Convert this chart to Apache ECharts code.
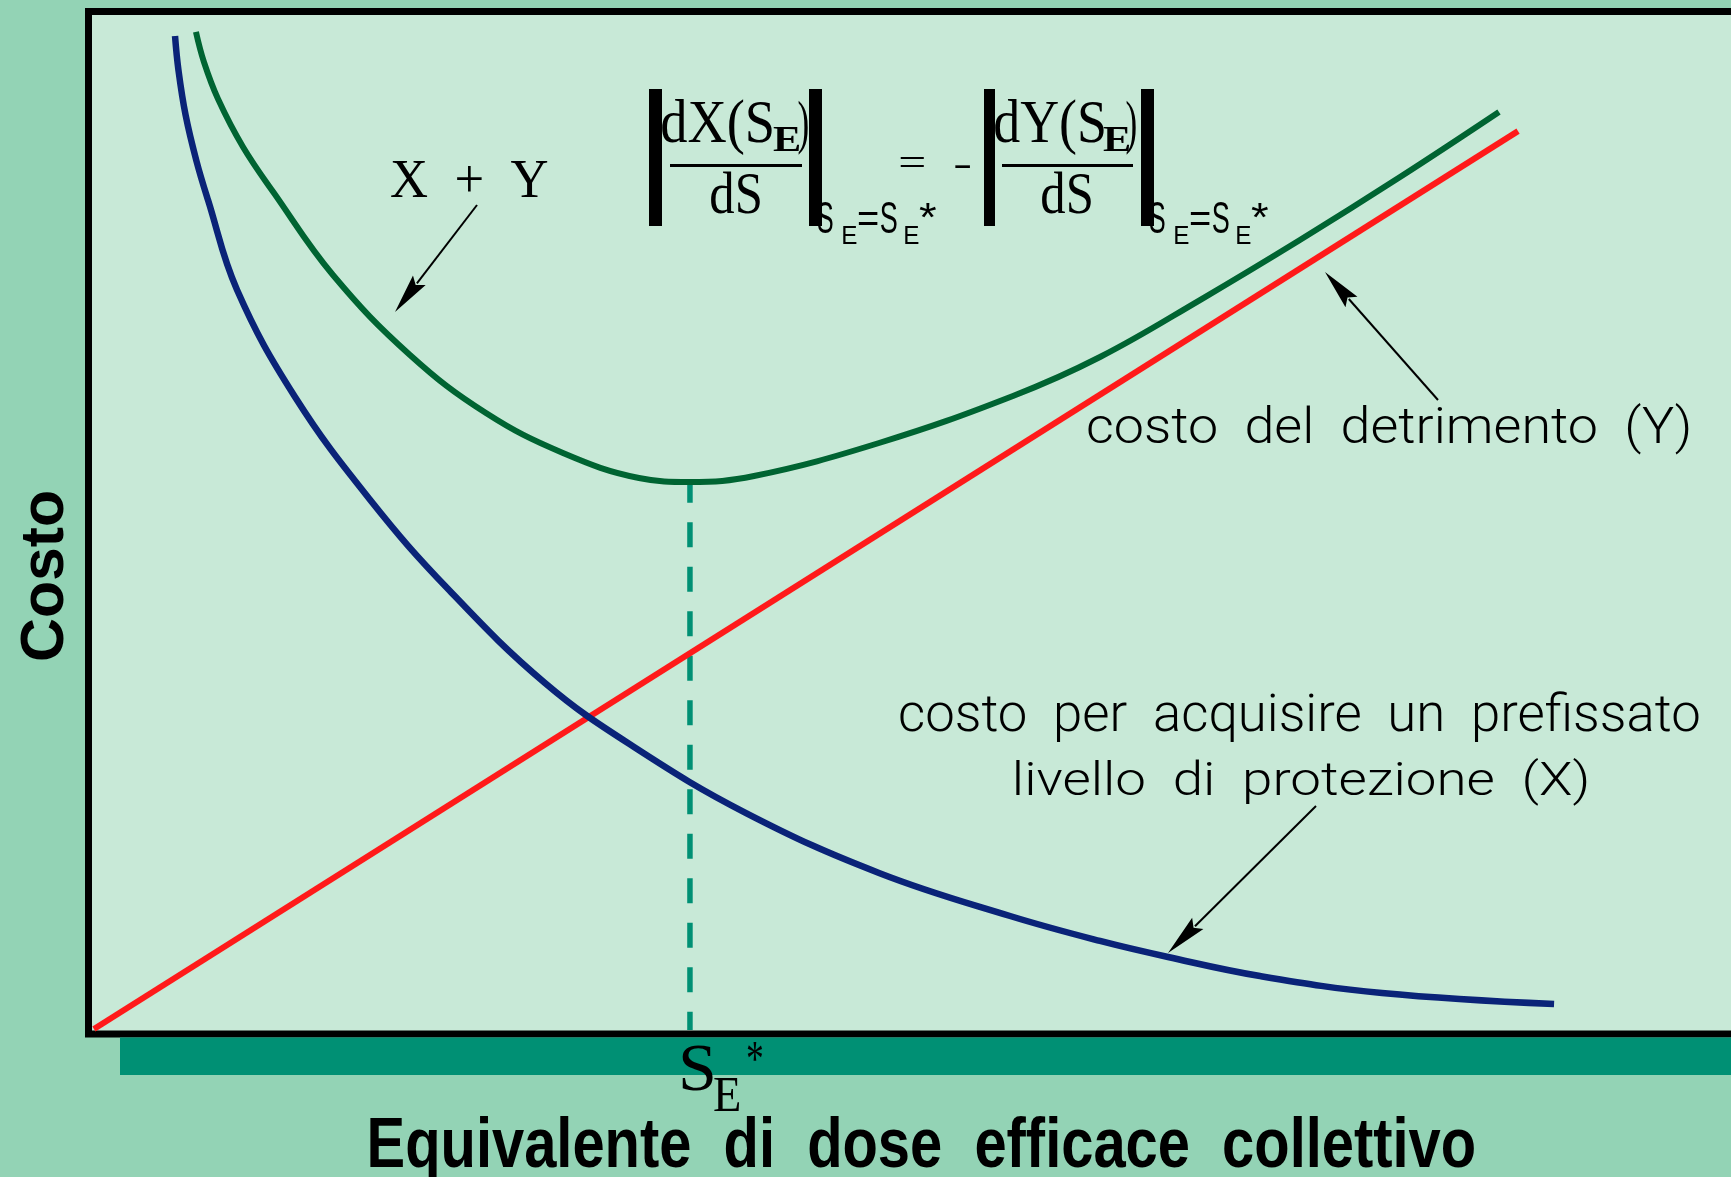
<!DOCTYPE html>
<html>
<head>
<meta charset="utf-8">
<script src="https://cdn.jsdelivr.net/npm/echarts@6/dist/echarts.min.js"></script>
<style>
html,body{margin:0;padding:0;background:#93d3b5;}
#chart{width:1731px;height:1177px;}
</style>
</head>
<body>
<div id="chart"></div>
<script>
// ---------------- DATA (arbitrary units 0..100) ----------------
// X : cost of achieving a given level of protection (blue)
const protS    = [5.09, 5.29, 5.71, 6.35, 7.03, 8.74, 12.15, 16.62, 21.15, 26.85, 32.09, 38.68, 46.50, 54.21, 59.50, 63.50, 68.91, 76.09, 86.21];
const protCost = [97.6, 94.28, 89.88, 85.38, 81.56, 72.76, 62.30, 52.13, 43.52, 34.33, 28.07, 21.61, 15.75, 11.54, 9.10, 7.53, 5.67, 4.01, 2.93];
// Y : cost of detriment (red, straight line)
const detrS    = [0.32, 84.09];
const detrCost = [0.49, 88.3];
// X + Y : total (green)
const totS     = [6.32, 6.79, 7.62, 9.09, 10.91, 14.38, 18.91, 23.38, 27.91, 32.38, 35.38, 39.15, 46.50, 54.38, 59.50, 65.38, 71.26, 77.15, 82.97];
const totCost  = [98.0, 95.06, 91.44, 86.75, 82.25, 74.23, 66.41, 60.73, 56.82, 54.38, 53.99, 54.57, 57.80, 62.40, 66.21, 71.78, 77.65, 83.81, 90.17];
// optimum S_E* (dashed vertical)
const optS     = [35.38, 35.38];
const optCost  = [54.0, 0.4];

// ---------------- TEXTS ----------------
const txtSum    = 'X  +  Y';
const txtDetr   = 'costo  del  detrimento  (Y)';
const txtProt1  = 'costo  per  acquisire  un  prefissato';
const txtProt2  = 'livello  di  protezione  (X)';
const txtXName  = 'Equivalente  di  dose  efficace  collettivo';
const txtYName  = 'Costo';

const zip = (a, b) => a.map((v, i) => [v, b[i]]);

// ---------------- text fitting helpers (layout only) ----------------
const mctx = document.createElement('canvas').getContext('2d');
function fontStr(o){ return `normal ${o.weight||'normal'} ${o.size}px ${o.family}`; }
function inkText(str, o){
  const font = fontStr(o);
  mctx.font = font; mctx.textBaseline = 'middle'; mctx.textAlign = 'left';
  const m = mctx.measureText(str);
  const L = m.actualBoundingBoxLeft, R = m.actualBoundingBoxRight;
  const sx = (o.right - o.left) / (L + R);
  let sy, y;
  if (o.baseline !== undefined){
    const h = mctx.measureText(o.ref || 'H');
    const A = h.actualBoundingBoxAscent, D = h.actualBoundingBoxDescent;
    sy = (o.baseline - o.capTop) / (A + D);
    y = o.baseline - D * sy;
  } else {
    const A = m.actualBoundingBoxAscent, D = m.actualBoundingBoxDescent;
    sy = (o.bottom - o.top) / (A + D);
    y = o.top + A * sy;
  }
  return {type:'text', x: o.left + L * sx, y: y, scaleX: sx, scaleY: sy, z: 20, silent: true,
    style:{text: str, font: font, fill: o.color || '#000',
      align:'left', textAlign:'left', verticalAlign:'middle', textVerticalAlign:'middle'}};
}
function rotText(str, o){ // reads bottom -> top
  const font = fontStr(o);
  mctx.font = font; mctx.textBaseline = 'middle'; mctx.textAlign = 'left';
  const m = mctx.measureText(str);
  const L = m.actualBoundingBoxLeft, R = m.actualBoundingBoxRight;
  const sx = (o.bottomY - o.topY) / (L + R);
  const h = mctx.measureText(o.ref || 'H');
  const A = h.actualBoundingBoxAscent, D = h.actualBoundingBoxDescent;
  const sy = (o.baselineX - o.capX) / (A + D);
  return {type:'text', x: o.baselineX - D * sy, y: o.bottomY - sx * L, rotation: Math.PI / 2,
    scaleX: sx, scaleY: sy, z: 20, silent: true,
    style:{text: str, font: font, fill: '#000', align:'left', textAlign:'left', verticalAlign:'middle', textVerticalAlign:'middle'}};
}
function arrow(x1, y1, x2, y2, hl, hw){
  const dx = x2 - x1, dy = y2 - y1, len = Math.hypot(dx, dy), ux = dx / len, uy = dy / len;
  const bx = x2 - ux * hl, by = y2 - uy * hl, px = -uy, py = ux;
  return [
    {type:'line', z: 20, silent:true, shape:{x1:x1, y1:y1, x2:bx + ux * 4, y2:by + uy * 4}, style:{stroke:'#000', lineWidth:2}},
    {type:'polygon', z: 20, silent:true, shape:{points:[[x2, y2], [bx + px * hw / 2, by + py * hw / 2], [bx + ux * 6, by + uy * 6], [bx - px * hw / 2, by - py * hw / 2]]}, style:{fill:'#000'}}
  ];
}
const rect = (x, y, w, h, fill, z) => ({type:'rect', z: z || 20, silent:true, shape:{x:x, y:y, width:w, height:h}, style:{fill: fill || '#000'}});

const SERIF = "'Liberation Serif', 'DejaVu Serif', serif";
const SANS  = "'Liberation Sans', Arial, sans-serif";
const LIGHT = "Roboto, 'Liberation Sans', sans-serif";

const graphics = [];
// teal band under the axis
graphics.push(rect(120, 1037.5, 1640, 37.5, '#009074', 1));
// labels
graphics.push(inkText(txtSum,   {family: SERIF, size: 56, left: 391, right: 548, top: 160, bottom: 197}));
graphics.push(inkText(txtDetr,  {family: LIGHT, weight: 300, size: 53, left: 1088, right: 1689, top: 403, bottom: 455}));
graphics.push(inkText(txtProt1, {family: LIGHT, weight: 300, size: 53, left: 900, right: 1699, top: 692, bottom: 742}));
graphics.push(inkText(txtProt2, {family: LIGHT, weight: 300, size: 53, left: 1016, right: 1587, top: 757, bottom: 806}));
graphics.push(inkText(txtXName, {family: SANS, weight: 'bold', size: 68, left: 370, right: 1474, capTop: 1118, baseline: 1167, ref: 'E'}));
graphics.push(rotText(txtYName, {family: SANS, weight: 'bold', size: 64, topY: 492, bottomY: 660, capX: 18.5, baselineX: 63.5, ref: 'C'}));
// arrows
graphics.push(...arrow(477, 205, 395, 312, 40, 16));
graphics.push(...arrow(1438, 400, 1325, 272, 40, 16));
graphics.push(...arrow(1316, 806, 1168, 953, 42, 16));
// formula: [ dX(S_E)/dS ]_{S_E=S_E*} = - [ dY(S_E)/dS ]_{S_E=S_E*}
graphics.push(rect(649, 89, 13, 137));
graphics.push(rect(809, 89, 13, 137));
graphics.push(rect(984, 89, 11, 137));
graphics.push(rect(1141, 89, 13, 137));
graphics.push(rect(670, 164, 132, 3));
graphics.push(rect(1002, 164, 131, 3));
graphics.push(inkText('dX(S', {family: SERIF, size: 60, left: 662, right: 772, capTop: 101.5, baseline: 141.5, ref: 'X'}));
graphics.push(inkText('E',    {family: SERIF, weight: 'bold', size: 36, left: 773, right: 800, capTop: 127, baseline: 151, ref: 'E'}));
graphics.push(inkText(')',    {family: SERIF, size: 60, left: 798, right: 808, top: 100, bottom: 155}));
graphics.push(inkText('dS',   {family: SERIF, size: 60, left: 711, right: 760, capTop: 175, baseline: 214, ref: 'S'}));
graphics.push(inkText('dY(S', {family: SERIF, size: 60, left: 995, right: 1104, capTop: 101.5, baseline: 141.5, ref: 'Y'}));
graphics.push(inkText('E',    {family: SERIF, weight: 'bold', size: 36, left: 1103, right: 1130, capTop: 127, baseline: 151, ref: 'E'}));
graphics.push(inkText(')',    {family: SERIF, size: 60, left: 1126, right: 1136, top: 100, bottom: 155}));
graphics.push(inkText('dS',   {family: SERIF, size: 60, left: 1042, right: 1091, capTop: 175, baseline: 214, ref: 'S'}));
graphics.push(inkText('=',    {family: SERIF, size: 60, left: 900, right: 924, top: 158, bottom: 168}));
graphics.push(inkText('-',    {family: SERIF, size: 60, left: 955, right: 970, top: 164.5, bottom: 167.5}));
[0, 332].forEach(function(dx){
  const o = 1150 - 332 + dx;  // left of subscript block
  graphics.push(inkText('S', {family: SANS, size: 44, left: o,      right: o + 15, top: 202, bottom: 233}));
  graphics.push(inkText('E', {family: SANS, size: 26, left: o + 25, right: o + 39, top: 226, bottom: 244}));
  graphics.push(inkText('=', {family: SANS, size: 40, left: o + 40, right: o + 60, top: 212, bottom: 225}));
  graphics.push(inkText('S', {family: SANS, size: 44, left: o + 63, right: o + 79, top: 202, bottom: 233}));
  graphics.push(inkText('E', {family: SANS, size: 26, left: o + 87, right: o + 101, top: 226, bottom: 244}));
  graphics.push(inkText('*', {family: SANS, size: 40, left: o + 101, right: o + 118, top: 203, bottom: 218}));
});
// S_E* under the axis
graphics.push(inkText('S', {family: SERIF, size: 70, left: 682, right: 713, top: 1045, bottom: 1091}));
graphics.push(inkText('E', {family: SERIF, size: 50, left: 714, right: 740, top: 1078, bottom: 1111}));
graphics.push(inkText('*', {family: SERIF, size: 40, left: 747, right: 763, top: 1042, bottom: 1061}));

const chart = echarts.init(document.getElementById('chart'), null, {renderer: 'canvas'});
chart.setOption({
  animation: false,
  backgroundColor: '#93d3b5',
  grid: {left: 88.5, top: 11.5, width: 1700, height: 1022.5, show: true,
         backgroundColor: '#c8e9d7', borderColor: '#000', borderWidth: 7,
         containLabel: false, outerBoundsMode: 'none'},
  xAxis: {type: 'value', min: 0, max: 100, show: false},
  yAxis: {type: 'value', min: 0, max: 100, show: false},
  series: [
    {name: 'S_E*', type: 'line', data: zip(optS, optCost), symbol: 'none', z: 2,
     lineStyle: {color: '#009074', width: 5.5, type: [25, 19.5], dashOffset: 4}},
    {name: 'Y', type: 'line', data: zip(detrS, detrCost), symbol: 'none', z: 3,
     lineStyle: {color: '#ff1a1a', width: 6}},
    {name: 'X', type: 'line', data: zip(protS, protCost), symbol: 'none', smooth: 0.4, z: 4,
     lineStyle: {color: '#0a2378', width: 6.5}},
    {name: 'X + Y', type: 'line', data: zip(totS, totCost), symbol: 'none', smooth: 0.4, z: 5,
     lineStyle: {color: '#006432', width: 6}}
  ],
  graphic: graphics
});
</script>
</body>
</html>
